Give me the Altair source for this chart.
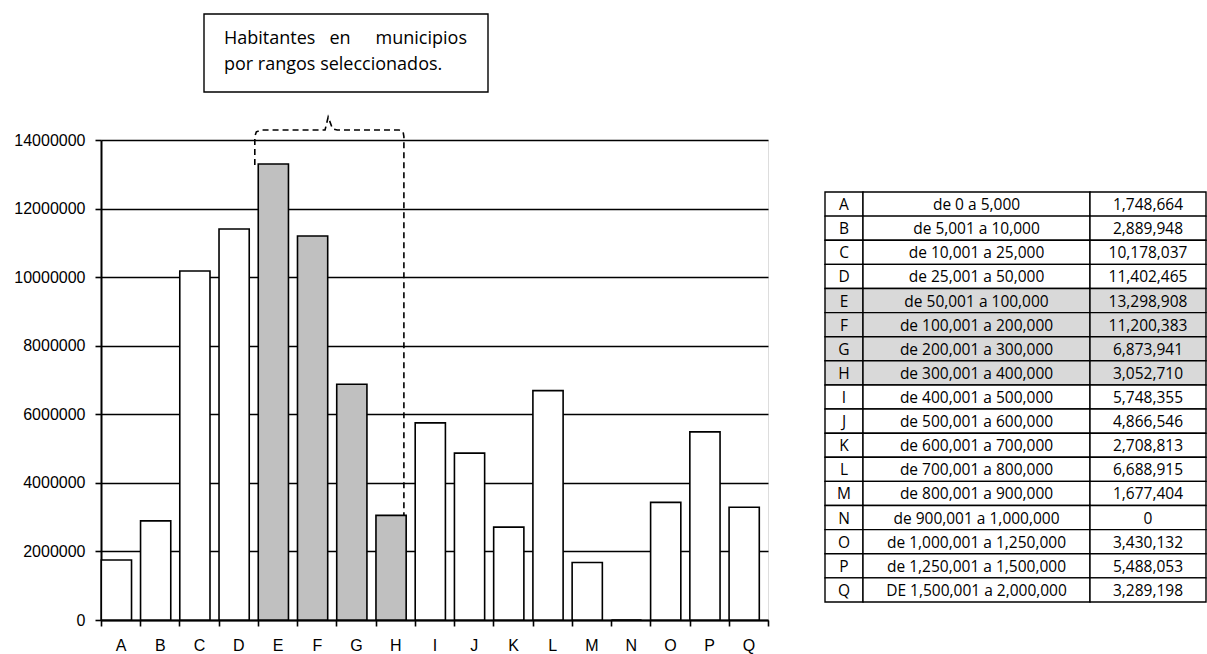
import altair as alt
import pandas as pd

# Población por rango de tamaño de municipio
claves = list("ABCDEFGHIJKLMNOPQ")
rangos = [
    "de 0 a 5,000", "de 5,001 a 10,000", "de 10,001 a 25,000", "de 25,001 a 50,000",
    "de 50,001 a 100,000", "de 100,001 a 200,000", "de 200,001 a 300,000",
    "de 300,001 a 400,000", "de 400,001 a 500,000", "de 500,001 a 600,000",
    "de 600,001 a 700,000", "de 700,001 a 800,000", "de 800,001 a 900,000",
    "de 900,001 a 1,000,000", "de 1,000,001 a 1,250,000", "de 1,250,001 a 1,500,000",
    "DE 1,500,001 a 2,000,000",
]
habitantes = [1748664, 2889948, 10178037, 11402465, 13298908, 11200383, 6873941,
              3052710, 5748355, 4866546, 2708813, 6688915, 1677404, 0, 3430132,
              5488053, 3289198]
seleccionados = ["E", "F", "G", "H"]

# Llave punteada sobre los rangos seleccionados (x en unidades de categoría)
llave_x = [3.92, 3.92, 3.96, 4.08, 5.71, 5.79, 5.90, 6.02, 7.60, 7.70, 7.72, 7.72]
llave_y = [13.27e6, 14.10e6, 14.24e6, 14.29e6, 14.29e6, 14.67e6, 14.33e6, 14.29e6,
           14.29e6, 14.24e6, 14.10e6, 3.05e6]

W, H = 667, 480
FONT_AX = "Liberation Sans"
FONT_TXT = "Open Sans"

df = pd.DataFrame({
    "clave": claves,
    "rango": rangos,
    "habitantes": habitantes,
    "sel": [c in seleccionados for c in claves],
})

barras = alt.Chart(df).mark_bar(
    stroke="black", strokeWidth=1.6, xOffset=-4.2,
    width=alt.RelativeBandSize(0.77)
).encode(
    x=alt.X("clave:N", sort=claves, title=None,
            scale=alt.Scale(paddingInner=0, paddingOuter=0),
            axis=alt.Axis(labelAngle=0, tickBand="extent", labelFont=FONT_AX,
                          labelFontSize=16, labelColor="black", labelPadding=11,
                          tickSize=6, tickColor="black", tickWidth=1.6,
                          domainColor="black", domainWidth=2, grid=False)),
    y=alt.Y("habitantes:Q", title=None,
            scale=alt.Scale(domain=[0, 14000000], nice=False),
            axis=alt.Axis(values=list(range(0, 14000001, 2000000)), format="d",
                          labelFont=FONT_AX, labelFontSize=16, labelColor="black",
                          labelPadding=10, tickSize=6, tickColor="black",
                          tickWidth=1.6, domainColor="black", domainWidth=2,
                          grid=True, gridColor="black", gridWidth=1.6)),
    fill=alt.condition("datum.sel", alt.value("#c0c0c0"), alt.value("white")),
)

llave = alt.Chart(pd.DataFrame({"x": llave_x, "y": llave_y, "o": range(len(llave_x))})).mark_line(
    color="black", strokeWidth=1.6, strokeDash=[6, 4]
).encode(
    x=alt.X("x:Q", scale=alt.Scale(domain=[0, 17], nice=False, zero=False), axis=None),
    y=alt.Y("y:Q", scale=alt.Scale(domain=[0, 14000000], nice=False), axis=None),
    order="o:Q",
)

# Recuadro con la nota
nota_data = alt.Data(values=[{}])
caja = alt.Chart(nota_data).mark_rect(fill="white", stroke="black", strokeWidth=1.4).encode(
    x=alt.value(103), x2=alt.value(387), y=alt.value(-126), y2=alt.value(-48)
)
nota_kw = dict(font=FONT_TXT, fontSize=18, color="black", baseline="alphabetic")
p1 = alt.Chart(nota_data).mark_text(align="left", **nota_kw).encode(
    x=alt.value(123), y=alt.value(-96), text=alt.value("Habitantes"))
p2 = alt.Chart(nota_data).mark_text(align="center", **nota_kw).encode(
    x=alt.value(239), y=alt.value(-96), text=alt.value("en"))
p3 = alt.Chart(nota_data).mark_text(align="right", **nota_kw).encode(
    x=alt.value(366), y=alt.value(-96), text=alt.value("municipios"))
p4 = alt.Chart(nota_data).mark_text(align="left", **nota_kw).encode(
    x=alt.value(123), y=alt.value(-70), text=alt.value("por rangos seleccionados."))

# Tabla de rangos a la derecha
anchos = [38, 227, 116]
bordes = [0, anchos[0], anchos[0] + anchos[1], sum(anchos)]
celdas = []
for i, (c, r, h) in enumerate(zip(claves, rangos, habitantes)):
    textos = [c, r, f"{h:,}"]
    for j in range(3):
        celdas.append({
            "x0": bordes[j], "x1": bordes[j + 1], "xm": (bordes[j] + bordes[j + 1]) / 2,
            "y0": i, "y1": i + 1, "ym": i + 0.5,
            "txt": textos[j], "sel": c in seleccionados,
        })
tabla_df = pd.DataFrame(celdas)
tx = alt.Scale(domain=[0, sum(anchos)], range=[724, 724 + sum(anchos)], nice=False, zero=False)
ty = alt.Scale(domain=[0, 17], range=[52, 462], nice=False, zero=False)
tabla_rect = alt.Chart(tabla_df).mark_rect(stroke="black", strokeWidth=1.4).encode(
    x=alt.X("x0:Q", scale=tx, axis=None), x2="x1:Q",
    y=alt.Y("y0:Q", scale=ty, axis=None), y2="y1:Q",
    fill=alt.condition("datum.sel", alt.value("#d9d9d9"), alt.value("white")),
)
tabla_txt = alt.Chart(tabla_df).mark_text(
    font=FONT_TXT, fontSize=15.5, color="black", baseline="middle", align="center", dy=1
).encode(
    x=alt.X("xm:Q", scale=tx, axis=None),
    y=alt.Y("ym:Q", scale=ty, axis=None),
    text="txt:N",
)

chart = alt.layer(
    barras, llave, caja, p1, p2, p3, p4, tabla_rect, tabla_txt
).resolve_scale(
    x="independent", y="independent"
).properties(
    width=W, height=H,
    autosize=alt.AutoSizeParams(type="none"),
    padding={"left": 101, "top": 140, "right": 439, "bottom": 34},
).configure_view(
    stroke="#8c8c8c", strokeWidth=1.5
).configure(background="white")

chart.save("out.html", embed_options={"renderer": "svg", "actions": False})
